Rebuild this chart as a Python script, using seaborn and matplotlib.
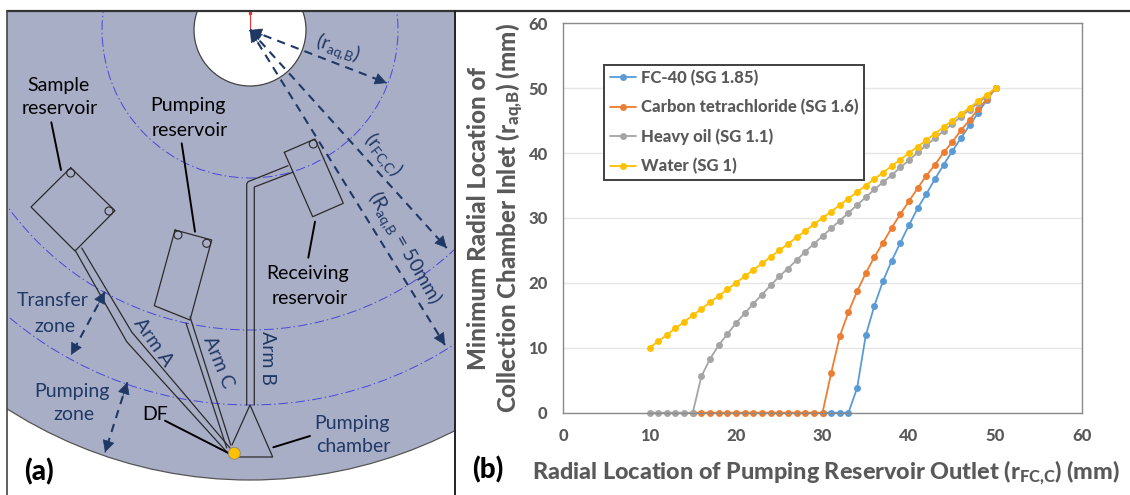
import pandas as pd
import matplotlib
matplotlib.use('Agg')
import matplotlib.pyplot as plt
from matplotlib.patches import Circle, Rectangle
import seaborn as sns

# chart data
series_names = ['FC-40 (SG 1.85)', 'Carbon tetrachloride (SG 1.6)', 'Heavy oil (SG 1.1)', 'Water (SG 1)']
series_colors = ['#5b9bd5', '#ed7d31', '#a5a5a5', '#ffc000']

fc40_x = [30, 31, 32, 33, 34, 35, 36, 37, 38, 39, 40, 41, 42, 43, 44, 45, 46, 47, 48, 49, 50]
fc40_y = [0, 0, 0, 0, 3.8, 11.9, 16.5, 20.3, 23.4, 26.2, 28.9, 31.5, 33.7, 36, 38.2, 40.3, 42.3, 44.3, 46.2, 48.2, 50]

carbon_x = [15, 16, 17, 18, 19, 20, 21, 22, 23, 24, 25, 26, 27, 28, 29, 30, 31, 32, 33, 34, 35, 36, 37, 38, 39, 40,
            41, 42, 43, 44, 45, 46, 47, 48, 49, 50]
carbon_y = [0, 0, 0, 0, 0, 0, 0, 0, 0, 0, 0, 0, 0, 0, 0, 0, 6.1, 11.8, 15.5, 18.7, 21.5, 24, 26.2, 28.5, 30.6, 32.6,
            34.6, 36.5, 38.2, 40.1, 41.7, 43.5, 45.1, 46.8, 48.3, 50]

heavy_x = [10, 11, 12, 13, 14, 15, 16, 17, 18, 19, 20, 21, 22, 23, 24, 25, 26, 27, 28, 29, 30, 31, 32, 33, 34, 35,
           36, 37, 38, 39, 40, 41, 42, 43, 44, 45, 46, 47, 48, 49, 50]
heavy_y = [0, 0, 0, 0, 0, 0, 5.6, 8.3, 10.4, 12.1, 13.8, 15.3, 16.8, 18.2, 19.6, 21, 22.2, 23.5, 24.8, 26, 27.2, 28.4,
           29.6, 30.8, 32, 33.2, 34.4, 35.5, 36.6, 37.8, 38.9, 40.1, 41.2, 42.3, 43.4, 44.5, 45.6, 46.7, 47.7, 48.8, 50]

water_x = heavy_x
water_y = [10, 11, 12, 13, 14, 15, 16, 17, 18, 19, 20, 21, 22, 23, 24, 25, 26, 27, 28, 29, 30, 31, 32, 33, 34, 35,
           36, 37, 38, 39, 40, 41, 42, 43, 44, 45, 46, 47, 48, 49, 50]

tick_values = [0, 10, 20, 30, 40, 50, 60]

NAVY = '#1f3864'
GRAY = '#595959'
INK = '#2b2b2b'
DISK = '#a9aec7'
RING = '#4747d8'
HEAVY = 'black'

sns.set_theme(style='white')
plt.rcParams['font.family'] = ['Lato', 'DejaVu Sans']
plt.rcParams['mathtext.default'] = 'regular'

fig = plt.figure(figsize=(11.3, 4.95), dpi=100)

# panel (a) is a schematic, drawn in pixel units of the figure
sk = fig.add_axes([0, 0, 1, 1], zorder=0)
sk.set_xlim(0, 1130)
sk.set_ylim(495, 0)
sk.set_axis_off()

clip = Rectangle((7, 11), 448, 484, transform=sk.transData)
center = (250, 30)


def disk(radius, **kw):
    patch = sk.add_patch(Circle(center, radius, **kw))
    patch.set_clip_path(clip)


disk(450, fc=DISK, ec='#555555', lw=0.9)
disk(56, fc='white', ec='#444444', lw=0.9)
for r in [148, 300, 375]:
    disk(r, fc='none', ec=RING, lw=0.7, ls=(0, (10, 3, 1.5, 3)))

sk.plot([250, 250], [30, 13], color='#e8353a', lw=0.8, clip_on=False)
sk.plot([250, 259], [30, 30], color='#e8353a', lw=0.8)
sk.plot([250], [13], 's', color='#e8353a', ms=2)
sk.plot([259], [30], 's', color='#e8353a', ms=2)


def outline(points, lw=0.9, color=INK, closed=False):
    xs = [p[0] for p in points]
    ys = [p[1] for p in points]
    if closed:
        xs.append(xs[0])
        ys.append(ys[0])
    sk.plot(xs, ys, color=color, lw=lw, solid_joinstyle='miter')


def port(x, y, r=4):
    sk.add_patch(Circle((x, y), r, fc='none', ec=INK, lw=0.8))


def dashed_arrow(a, b, both=True):
    sk.plot([a[0], b[0]], [a[1], b[1]], color=NAVY, lw=1.5, ls=(0, (4, 3)))
    pairs = [(a, b), (b, a)] if both else [(a, b)]
    for tip, tail in pairs:
        dx, dy = tail[0] - tip[0], tail[1] - tip[1]
        length = (dx ** 2 + dy ** 2) ** 0.5
        start = (tip[0] + dx / length * 14, tip[1] + dy / length * 14)
        sk.annotate('', xy=tip, xytext=start,
                    arrowprops=dict(arrowstyle='-|>,head_length=0.55,head_width=0.28', color=NAVY, lw=0.5,
                                    mutation_scale=14, shrinkA=0, shrinkB=0))


# reservoirs
outline([(70.7, 167.7), (115, 210.7), (75, 251), (31, 207)], closed=True)
port(70.7, 173)
port(109, 211)
outline([(175, 230), (211.7, 240), (190, 320), (154.3, 305.7)], closed=True)
port(178, 235)
port(206.7, 243.3)
outline([(284.3, 152.3), (315, 139), (343.3, 203.3), (312.7, 216.7)], closed=True)
port(313.3, 144)

# arms
outline([(75, 250), (126.7, 341.7), (227.7, 453)])
outline([(81.7, 248), (131.7, 332), (230, 448)])
outline([(186, 323), (226.7, 448)])
outline([(190, 316.7), (230.7, 445)])
outline([(288, 165.7), (248, 181.7), (246.7, 184), (246.7, 405)])
outline([(292.7, 172.3), (254.3, 187), (254.3, 405)])
outline([(232, 445), (250, 405), (272.7, 457), (230, 457)])

# leader lines
outline([(51.3, 122.3), (61, 170)], lw=1.4, color='black')
outline([(181.7, 143.3), (195, 231.7)], lw=1.4, color='black')
outline([(315, 221.7), (308.3, 257.7)], lw=1.4, color='black')
outline([(165, 420.7), (228.3, 453)], lw=1.4, color='black')
outline([(273.3, 447.3), (310, 436)], lw=1.4, color='black')

sk.add_patch(Circle((234.3, 453.3), 6, fc='#ffc000', ec='#8a8a7a', lw=0.6, zorder=5))

# radius and zone arrows
dashed_arrow(center, (386.7, 83))
dashed_arrow(center, (446.7, 248))
dashed_arrow(center, (445, 345))
dashed_arrow((105, 291.7), (71, 355))
dashed_arrow((127.3, 382.3), (105, 452.3))

sk_labels = [
    ('Sample', 58, 85, 'black', 0),
    ('reservoir', 60, 109, 'black', 0),
    ('Pumping', 188, 106, 'black', 0),
    ('reservoir', 190, 130, 'black', 0),
    ('Receiving', 308, 273, 'black', 0),
    ('reservoir', 310, 298, 'black', 0),
    ('DF', 155, 415, 'black', 0),
    ('Transfer', 53, 301, NAVY, 0),
    ('zone', 55, 326, NAVY, 0),
    ('Pumping', 72, 391, NAVY, 0),
    ('zone', 74, 415, NAVY, 0),
    ('Pumping', 352, 423, NAVY, 0),
    ('chamber', 353, 447, NAVY, 0),
    ('Arm A', 152.7, 342, NAVY, -55),
    ('Arm C', 218, 362, NAVY, -68),
    ('Arm B', 267, 358, NAVY, -90),
    ('($r_{aq{,}B}$)', 338, 48, NAVY, -20),
    ('($r_{FC{,}C}$)', 383, 155, NAVY, -52),
    ('($R_{aq{,}B}$ = 50mm)', 404, 248, NAVY, -60),
]
for label, x, y, color, rot in sk_labels:
    sk.text(x, y, label, color=color, rotation=rot, rotation_mode='anchor', fontsize=14,
            ha='center', va='center')

sk.text(39, 472, '(a)', fontsize=20, fontweight=HEAVY, color='black', ha='center', va='center')
sk.text(488, 470, '(b)', fontsize=20, fontweight=HEAVY, color='black', ha='center', va='center')

# panel borders
sk.plot([7, 1130], [10.5, 10.5], color='#333333', lw=1.6, clip_on=False)
sk.plot([7, 7], [10.5, 495], color='#444444', lw=1.2)
sk.plot([455, 455], [10.5, 495], color='#222222', lw=1.4)

# panel (b)
frames = []
for name, xs, ys in zip(series_names,
                        [fc40_x, carbon_x, heavy_x, water_x],
                        [fc40_y, carbon_y, heavy_y, water_y]):
    frames.append(pd.DataFrame({'x': xs, 'y': ys, 'fluid': name}))
df = pd.concat(frames, ignore_index=True)

ax = fig.add_axes([563 / 1130, 1 - 412.7 / 495, 519 / 1130, 389.4 / 495], zorder=2)
sns.lineplot(data=df, x='x', y='y', hue='fluid', hue_order=series_names, palette=series_colors,
             marker='o', markersize=5, markeredgewidth=0, linewidth=1.3, errorbar=None, ax=ax,
             clip_on=False)
ax.set_xlim(0, 60)
ax.set_ylim(0, 60)
ax.set_xticks(tick_values)
ax.set_yticks(tick_values)
ax.grid(axis='y', color='#e6e6e6', lw=1)
ax.set_axisbelow(True)
ax.tick_params(length=0, labelsize=12, labelcolor=GRAY)
ax.tick_params(axis='y', pad=11)
ax.tick_params(axis='x', pad=11)
for tick in ax.get_xticklabels() + ax.get_yticklabels():
    tick.set_fontweight(HEAVY)
for spine in ax.spines.values():
    spine.set_color('#8a8a8a')
    spine.set_linewidth(1)

ax.set_xlabel('Radial Location of Pumping Reservoir Outlet ($r_{FC{,}C}$) (mm)', fontsize=16.8, fontweight=HEAVY,
              color=GRAY)
ax.xaxis.set_label_coords(0.507, -0.118)
ax.set_ylabel('Minimum Radial Location of\nCollection Chamber Inlet ($r_{aq{,}B}$) (mm)', fontsize=17.3,
              fontweight=HEAVY, color=GRAY, linespacing=1.22)
ax.yaxis.set_label_coords(-0.071, 0.5)

leg = ax.legend(loc='upper left', bbox_to_anchor=(604 / 1130, 1 - 64.5 / 495), bbox_transform=fig.transFigure,
                borderaxespad=0, fontsize=12, frameon=True, fancybox=False, framealpha=1, facecolor='white',
                edgecolor='#404040', handlelength=1.6, handletextpad=0.3, labelspacing=0.78, borderpad=0.33,
                title=None)
leg.get_frame().set_linewidth(1.4)
for text in leg.get_texts():
    text.set_color(GRAY)
    text.set_fontweight(HEAVY)

fig.savefig('out.png', dpi=100)
